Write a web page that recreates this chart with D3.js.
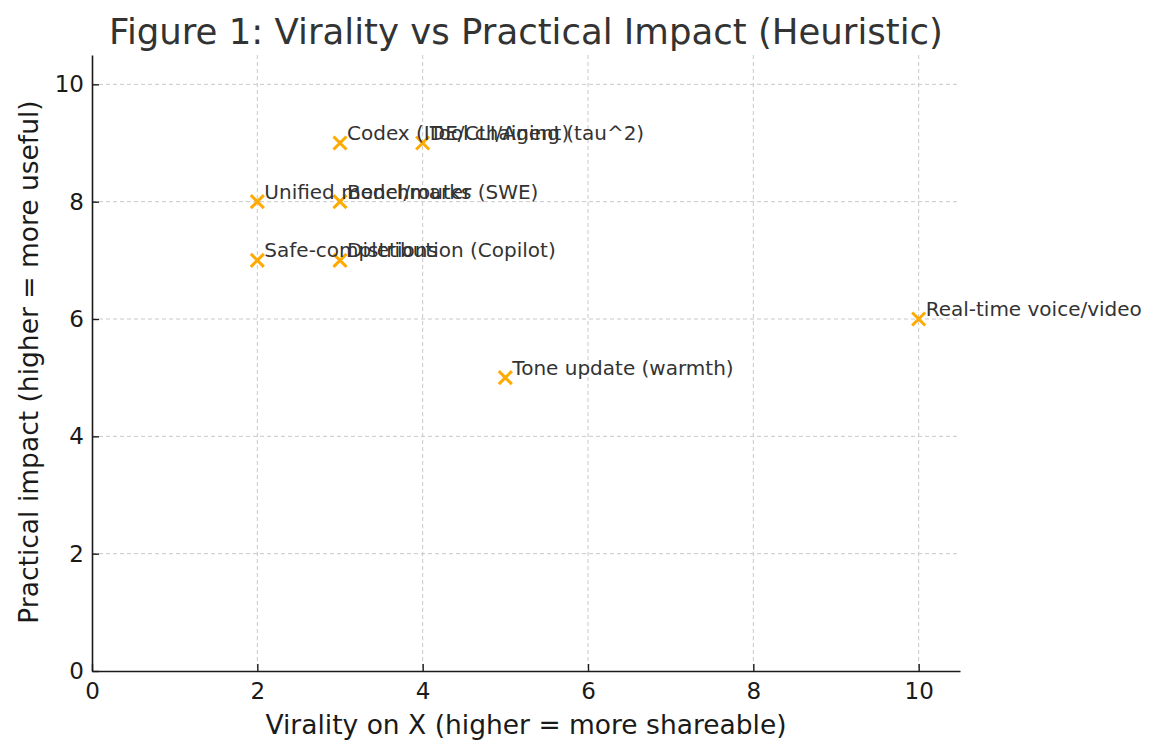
<!DOCTYPE html>
<html>
<head>
<meta charset="utf-8">
<script src="https://cdn.jsdelivr.net/npm/d3@7"></script>
<style>
  body { margin: 0; background: #fff; }
  text { font-family: "DejaVu Sans", sans-serif; }
</style>
</head>
<body>
<div id="chart"></div>
<script>
// data
var labels = ["Codex (IDE/CLI/Agent)", "Tool chaining (tau^2)", "Unified model/router",
              "Benchmarks (SWE)", "Safe-completions", "Distribution (Copilot)",
              "Real-time voice/video", "Tone update (warmth)"]
var virality = [3, 4, 2, 3, 2, 3, 10, 5]
var impact = [9, 9, 8, 8, 7, 7, 6, 5]
var xTicks = [0, 2, 4, 6, 8, 10]
var yTicks = [0, 2, 4, 6, 8, 10]

var W = 1158, H = 756
var margin = {top: 55, right: 198, bottom: 85, left: 92},
    width = W - margin.left - margin.right,
    height = H - margin.top - margin.bottom

var svg = d3.select("#chart").append("svg")
    .attr("width", W)
    .attr("height", H)

var g = svg.append("g")
    .attr("transform", "translate(" + margin.left + "," + margin.top + ")")

var x = d3.scaleLinear().domain([0, 10.5]).range([0, width])
var y = d3.scaleLinear().domain([0, 10.5]).range([height, 0])

// grid
g.append("g").selectAll("line")
    .data(xTicks.filter(d => d > 0))
    .enter().append("line")
    .attr("x1", d => x(d)).attr("x2", d => x(d))
    .attr("y1", 0).attr("y2", height)
    .attr("stroke", "#c8c8c8").attr("stroke-width", 1)
    .attr("stroke-dasharray", "4,3")
g.append("g").selectAll("line")
    .data(yTicks.filter(d => d > 0))
    .enter().append("line")
    .attr("y1", d => y(d)).attr("y2", d => y(d))
    .attr("x1", 0).attr("x2", width)
    .attr("stroke", "#c8c8c8").attr("stroke-width", 1)
    .attr("stroke-dasharray", "4,3")

// axes, ticks point inward
var xAxis = g.append("g")
    .attr("transform", "translate(0," + height + ")")
    .call(d3.axisBottom(x).tickValues(xTicks).tickSize(-7).tickPadding(12).tickSizeOuter(0))
var yAxis = g.append("g")
    .call(d3.axisLeft(y).tickValues(yTicks).tickSize(-7).tickPadding(8).tickSizeOuter(0))

;[xAxis, yAxis].forEach(function(a) {
  a.attr("font-family", null).attr("font-size", null)
  a.select(".domain").attr("stroke", "#1a1a1a").attr("stroke-width", 1.6)
  a.selectAll(".tick line").attr("stroke", "#1a1a1a").attr("stroke-width", 1.4)
  a.selectAll(".tick text")
    .attr("fill", "#1a1a1a")
    .style("font-size", "23px")
})

// markers
var s = 6.5
g.append("g").selectAll("path")
    .data(labels)
    .enter().append("path")
    .attr("d", function(d, i) {
      var cx = x(virality[i]), cy = y(impact[i])
      return "M" + (cx - s) + "," + (cy - s) + "L" + (cx + s) + "," + (cy + s) +
             "M" + (cx - s) + "," + (cy + s) + "L" + (cx + s) + "," + (cy - s)
    })
    .attr("stroke", "#FFAA00")
    .attr("stroke-width", 3)
    .attr("fill", "none")

// point labels
g.append("g").selectAll("text")
    .data(labels)
    .enter().append("text")
    .attr("x", (d, i) => x(virality[i]) + 7)
    .attr("y", (d, i) => y(impact[i]) - 3)
    .attr("fill", "#333")
    .style("font-size", "20px")
    .text(d => d)

// title and axis labels
svg.append("text")
    .attr("x", 526).attr("y", 44)
    .attr("text-anchor", "middle")
    .attr("fill", "#333")
    .style("font-size", "35.5px")
    .text("Figure 1: Virality vs Practical Impact (Heuristic)")

svg.append("text")
    .attr("x", margin.left + width / 2).attr("y", 734)
    .attr("text-anchor", "middle")
    .attr("fill", "#1a1a1a")
    .style("font-size", "26.5px")
    .text("Virality on X (higher = more shareable)")

svg.append("text")
    .attr("transform", "translate(38," + (margin.top + height / 2 - 1) + ") rotate(-90)")
    .attr("text-anchor", "middle")
    .attr("fill", "#1a1a1a")
    .style("font-size", "26.5px")
    .text("Practical impact (higher = more useful)")
</script>
</body>
</html>
